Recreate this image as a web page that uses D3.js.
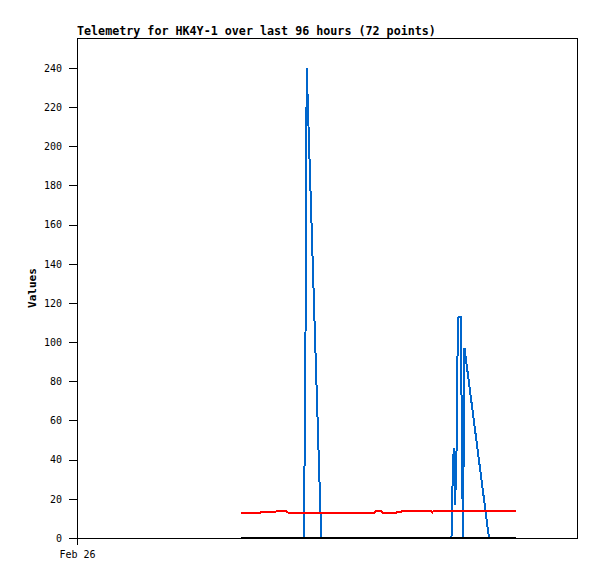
<!DOCTYPE html>
<html><head><meta charset="utf-8">
<script src="https://cdn.jsdelivr.net/npm/d3@7"></script>
<style>body{margin:0;background:#fff}</style>
</head><body>
<script>
// hours since Feb 26 00:00, values
const titleText = "Telemetry for HK4Y-1 over last 96 hours (72 points)";
const yTicks = [0,20,40,60,80,100,120,140,160,180,200,220,240];
const xTickLabels = ["Feb 26"];
const redHours  = [31.5,35.2,35.5,38.2,38.5,39.9,40.5,57.2,57.5,58.2,58.7,61.3,61.6,62.3,62.6,67.9,68.2,68.5,84.3];
const redValues = [13,13,13.5,13.5,14,14,13,13,14,14,13,13,13.5,13.5,14,14,13,14,14];
const blueHours  = [31.5,43.5,43.8,44.1,46.9,71.9,72.2,72.4,72.6,72.9,73.1,73.25,73.7,73.9,74.1,74.4,79.1,84.3];
const blueValues = [0,0,60,240,0,0,40,46,17,48,104,113,113,50,0,97,0,0];
const blackHours  = [31.5,84.3];
const blackValues = [0,0];

const W=597,H=579, L=77,T=38,R=577,B=538;
const t0 = new Date(2000,1,26,0,0);
const toDate = h => new Date(t0.getTime()+h*3600e3);
const svg = d3.select("body").append("svg").attr("width",W).attr("height",H)
  .style("font-family","'DejaVu Sans Mono', monospace");
const x = d3.scaleTime().domain([toDate(0),toDate(96)]).range([L,R]);
const y = d3.scaleLinear().domain([0,255.3]).range([B,T]);

svg.append("text").attr("x",L).attr("y",35).attr("font-size","11.7px").attr("font-weight","bold").text(titleText);

const yAxis = d3.axisLeft(y).tickValues(yTicks).tickSize(8).tickPadding(7).tickFormat(d3.format("d"));
const gy = svg.append("g").attr("transform",`translate(${L},0)`).call(yAxis);
gy.select(".domain").remove();
gy.selectAll("text").attr("font-size","10px").attr("font-family","'DejaVu Sans Mono', monospace").attr("fill","#000");
gy.selectAll("line").attr("stroke","#000").attr("shape-rendering","crispEdges");

const xAxis = d3.axisBottom(x).tickValues([toDate(0)]).tickSize(7).tickPadding(6).tickFormat((d,i)=>xTickLabels[i]);
const gx = svg.append("g").attr("transform",`translate(0,${B})`).call(xAxis);
gx.select(".domain").remove();
gx.selectAll("text").attr("font-size","10px").attr("font-family","'DejaVu Sans Mono', monospace").attr("fill","#000");
gx.selectAll("line").attr("stroke","#000").attr("shape-rendering","crispEdges");

svg.append("text").attr("transform",`translate(36,${(T+B)/2}) rotate(-90)`).attr("text-anchor","middle")
  .attr("font-size","11px").attr("font-weight","bold").text("Values");

const line = d3.line().x(d=>x(toDate(d[0]))).y(d=>y(d[1]));
function draw(hs,vs,color){
  svg.append("path").datum(hs.map((h,i)=>[h,vs[i]])).attr("d",line)
    .attr("fill","none").attr("stroke",color).attr("stroke-width",2).attr("shape-rendering","crispEdges");
}
draw(blueHours,blueValues,"#0066cc");
draw(redHours,redValues,"#ff0000");
draw(blackHours,blackValues,"#000000");

svg.append("rect").attr("x",L+0.5).attr("y",T+0.5).attr("width",R-L).attr("height",B-T)
  .attr("fill","none").attr("stroke","#000").attr("stroke-width",1).attr("shape-rendering","crispEdges");
</script>
</body></html>
